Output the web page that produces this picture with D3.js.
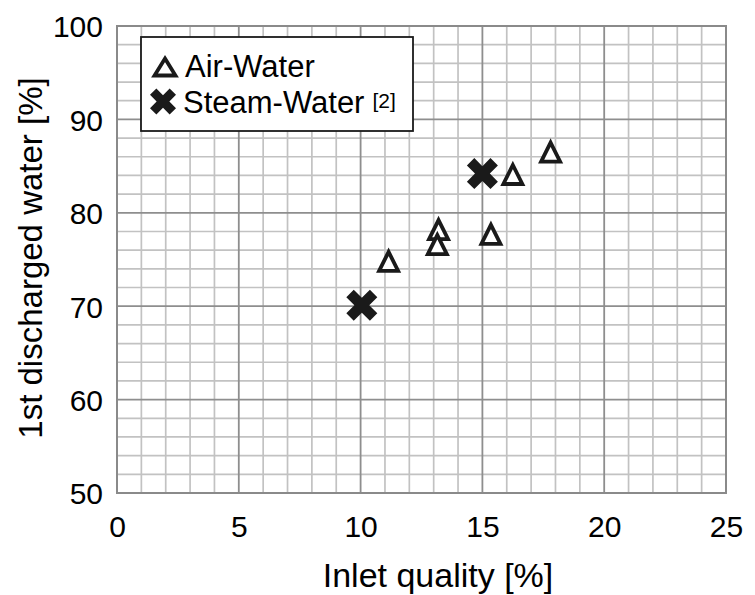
<!DOCTYPE html>
<html>
<head>
<meta charset="utf-8">
<script src="https://cdn.jsdelivr.net/npm/d3@7/dist/d3.min.js"></script>
<style>
  html, body { margin: 0; padding: 0; background: #fff; }
  svg { display: block; font-family: "Liberation Sans", Arial, Helvetica, sans-serif; }
</style>
</head>
<body>
<svg id="chart" width="755" height="595"></svg>
<script>
// Inlet quality (%) vs. share of water discharged first (%)
const airWaterX   = [17.8, 16.25, 13.2, 13.15, 15.35, 11.15];
const airWaterY   = [86.5, 84.1, 78.2, 76.6, 77.7, 74.8];
const steamWaterX = [15.0, 10.05];
const steamWaterY = [84.2, 70.1];

const xTicks = [0, 5, 10, 15, 20, 25];
const yTicks = [50, 60, 70, 80, 90, 100];
const xMinor = d3.range(0, 26, 1);
const yMinor = d3.range(50, 101, 2);

const legendLabels = ["Air-Water", "Steam-Water"];
const xTitle = "Inlet quality [%]";
const yTitle = "1st discharged water [%]";

const svg = d3.select("#chart");
const plot = { left: 117, right: 726, top: 26, bottom: 493 };

const x = d3.scaleLinear().domain([0, 25]).range([plot.left, plot.right]);
const y = d3.scaleLinear().domain([50, 100]).range([plot.bottom, plot.top]);

// Minor grid
const grid = svg.append("g");
grid.selectAll("line.vx").data(xMinor.filter(v => v % 5 !== 0)).join("line")
  .attr("x1", d => x(d)).attr("x2", d => x(d))
  .attr("y1", plot.top).attr("y2", plot.bottom)
  .attr("stroke", "#c2c2c2").attr("stroke-width", 1.7);
grid.selectAll("line.hy").data(yMinor.filter(v => v % 10 !== 0)).join("line")
  .attr("y1", d => y(d)).attr("y2", d => y(d))
  .attr("x1", plot.left).attr("x2", plot.right)
  .attr("stroke", "#c2c2c2").attr("stroke-width", 1.7);

// Major grid
const major = svg.append("g");
major.selectAll("line.mx").data(xTicks.slice(1, -1)).join("line")
  .attr("x1", d => x(d)).attr("x2", d => x(d))
  .attr("y1", plot.top).attr("y2", plot.bottom)
  .attr("stroke", "#8e8e8e").attr("stroke-width", 1.8);
major.selectAll("line.my").data(yTicks.slice(1, -1)).join("line")
  .attr("y1", d => y(d)).attr("y2", d => y(d))
  .attr("x1", plot.left).attr("x2", plot.right)
  .attr("stroke", "#8e8e8e").attr("stroke-width", 1.8);

// Plot frame
svg.append("rect")
  .attr("x", plot.left).attr("y", plot.top)
  .attr("width", plot.right - plot.left).attr("height", plot.bottom - plot.top)
  .attr("fill", "none").attr("stroke", "#8a8a8a").attr("stroke-width", 2);

// Axes (tick labels only)
const xAxis = svg.append("g").attr("transform", `translate(0,${plot.bottom})`)
  .call(d3.axisBottom(x).tickValues(xTicks).tickSize(0).tickPadding(0));
xAxis.select(".domain").remove();
xAxis.selectAll("text").attr("font-size", 30).attr("fill", "#000")
  .attr("font-family", "Liberation Sans, Arial, sans-serif")
  .attr("dy", null).attr("y", 43.5);

const yAxis = svg.append("g").attr("transform", `translate(${plot.left},0)`)
  .call(d3.axisLeft(y).tickValues(yTicks).tickSize(0).tickPadding(14));
yAxis.select(".domain").remove();
yAxis.selectAll("text").attr("font-size", 30).attr("fill", "#000")
  .attr("font-family", "Liberation Sans, Arial, sans-serif")
  .attr("dy", "0.36em");

// Axis titles
svg.append("text")
  .attr("x", 438).attr("y", 587)
  .attr("text-anchor", "middle").attr("font-size", 34).attr("fill", "#000")
  .text(xTitle);
svg.append("text")
  .attr("transform", `translate(42,258) rotate(-90)`)
  .attr("text-anchor", "middle").attr("font-size", 33).attr("fill", "#000")
  .text(yTitle);

// Marker shapes
function triangleType(w, h) {
  return {
    draw(ctx) {
      ctx.moveTo(0, -h / 2);
      ctx.lineTo(w / 2, h / 2);
      ctx.lineTo(-w / 2, h / 2);
      ctx.closePath();
    }
  };
}
function crossType(span, arm) {
  // Diagonal cross: overall span across, arm thickness "arm"
  return {
    draw(ctx) {
      const a = arm / 2;
      const r = Math.SQRT1_2;
      const hl = (span / 2) * Math.SQRT2 - a;
      const poly = [
        [ a,  a], [ a, hl], [-a, hl], [-a,  a], [-hl,  a], [-hl, -a],
        [-a, -a], [-a, -hl], [ a, -hl], [ a, -a], [ hl, -a], [ hl,  a]
      ].map(([px, py]) => [(px - py) * r, (px + py) * r]);
      ctx.moveTo(poly[0][0], poly[0][1]);
      for (let i = 1; i < poly.length; i++) ctx.lineTo(poly[i][0], poly[i][1]);
      ctx.closePath();
    }
  };
}

const triPlot = d3.symbol().type(triangleType(19, 19))();
const crossPlot = d3.symbol().type(crossType(31, 10.5))();

const airData = airWaterX.map((v, i) => ({ x: v, y: airWaterY[i] }));
const steamData = steamWaterX.map((v, i) => ({ x: v, y: steamWaterY[i] }));

svg.append("g").selectAll("path").data(steamData).join("path")
  .attr("d", crossPlot)
  .attr("transform", d => `translate(${x(d.x)},${y(d.y)})`)
  .attr("fill", "#1a1a1a");

svg.append("g").selectAll("path").data(airData).join("path")
  .attr("d", triPlot)
  .attr("transform", d => `translate(${x(d.x)},${y(d.y)})`)
  .attr("fill", "#fff").attr("stroke", "#1a1a1a").attr("stroke-width", 3.8)
  .attr("stroke-linejoin", "miter");

// Legend
const lg = svg.append("g");
lg.append("rect")
  .attr("x", 141).attr("y", 37).attr("width", 272).attr("height", 94)
  .attr("fill", "#fff").attr("stroke", "#1a1a1a").attr("stroke-width", 1.8);
lg.append("path").attr("d", d3.symbol().type(triangleType(21, 17))())
  .attr("transform", "translate(165,67)")
  .attr("fill", "#fff").attr("stroke", "#1a1a1a").attr("stroke-width", 3.8);
lg.append("path").attr("d", d3.symbol().type(crossType(26, 9))())
  .attr("transform", "translate(163,101.5)")
  .attr("fill", "#1a1a1a");
lg.append("text").attr("x", 185).attr("y", 77)
  .attr("font-size", 31).attr("fill", "#000").text(legendLabels[0]);
const t2 = lg.append("text").attr("x", 183).attr("y", 113)
  .attr("font-size", 31).attr("fill", "#000");
t2.append("tspan").text(legendLabels[1]);
t2.append("tspan").attr("font-size", 21).attr("dx", 8).attr("dy", -5).text("[2]");
</script>
</body>
</html>
